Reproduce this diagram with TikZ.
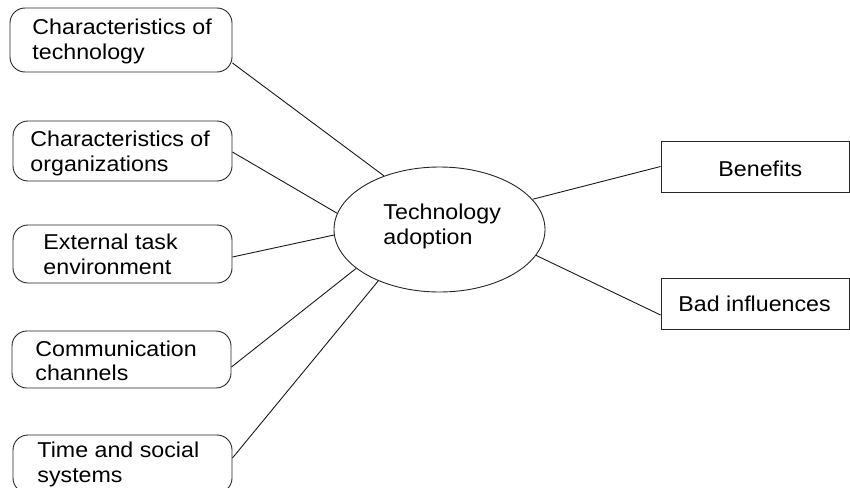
\documentclass[tikz,border=0pt]{standalone}
\usepackage{fontspec}
\setmainfont{Liberation Sans}[FakeStretch=1.08]
\usetikzlibrary{shapes.geometric}
\begin{document}
\begin{tikzpicture}[x=1pt,y=-1pt,
  every node/.style={line width=0.9pt},
  rbox/.style={draw=black!85, rounded corners=15pt, minimum width=#1, minimum height=58pt, inner sep=0pt},
  sbox/.style={draw=black!85, minimum width=188pt, minimum height=51pt, inner sep=0pt},
  lbl/.style={anchor=west, inner sep=0pt, align=left, font=\fontsize{21.5}{24.5}\selectfont},
  link/.style={draw=black!90, line width=0.9pt}]
\useasboundingbox (0,0) rectangle (850,487);
\clip (0,0) rectangle (850,487);
% left boxes
\node[rbox=222pt, minimum height=64pt] (b1) at (121,40) {};
\node[rbox=219pt, minimum height=60pt] (b2) at (122.5,151) {};
\node[rbox=219pt] (b3) at (122.5,254) {};
\node[rbox=219pt, minimum height=57pt] (b4) at (121.5,359.5) {};
\node[rbox=219pt] (b5) at (122.5,464) {};
\node[lbl] (t1) at (32,41.5) {Characteristics of\\technology};
\node[lbl] (t2) at (30,153.5) {Characteristics of\\organizations};
\node[lbl] (t3) at (43,254.5) {External task\\environment};
\node[lbl] (t4) at (35,361) {Communication\\channels};
\node[lbl] (t5) at (37,464.5) {Time and social\\systems};
% centre
\node[ellipse, draw=black!85, minimum width=211pt, minimum height=125pt, inner sep=0pt] (ta) at (439.5,229.5) {};
\node[lbl] (tt) at (383,226.5) {Technology\\adoption};
% right boxes
\node[sbox] (rb1) at (755,166.5) {};
\node[sbox] (rb2) at (755,303.5) {};
\node[lbl] (tb1) at (718,169) {Benefits};
\node[lbl] (tb2) at (678,304) {Bad influences};
% connectors
\draw[link] ([yshift=-23pt]b1.east) -- (ta.136);
\draw[link] ([yshift=-1pt]b2.east) -- (ta.171);
\draw[link] ([yshift=-3pt]b3.east) -- (ta.183);
\draw[link] ([yshift=-7.5pt]b4.east) -- (ta.205);
\draw[link] ([yshift=6pt]b5.east) -- (ta.220);
\draw[link] (ta.18) -- ([yshift=0pt]rb1.west);
\draw[link] (ta.-15) -- ([yshift=-11.5pt]rb2.west);
\end{tikzpicture}
\end{document}
